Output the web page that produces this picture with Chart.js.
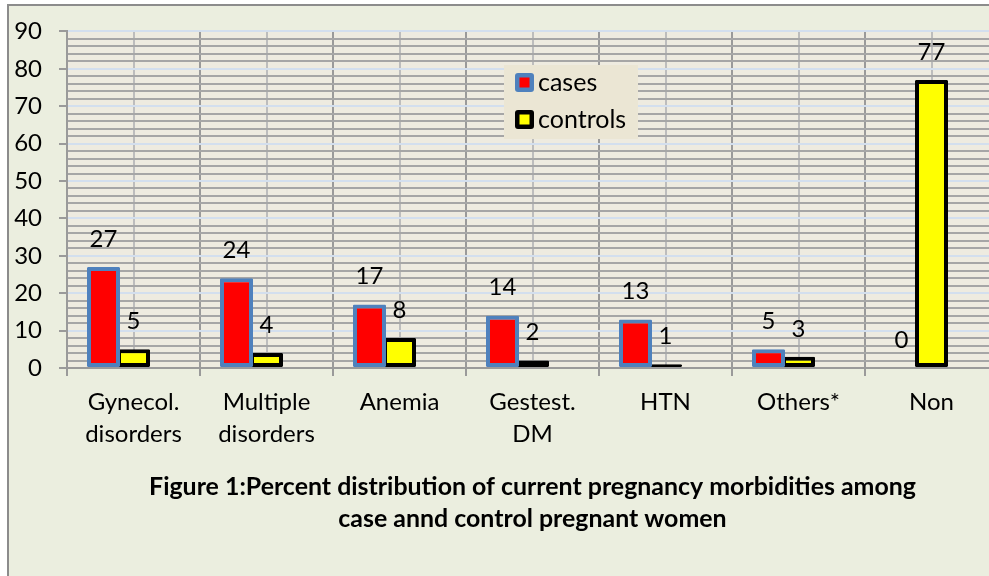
<!DOCTYPE html>
<html><head><meta charset="utf-8">
<script src="https://cdn.jsdelivr.net/npm/chart.js@4.4.1/dist/chart.umd.min.js"></script>
<style>
html,body{margin:0;padding:0;background:#fff;overflow:hidden;width:989px;height:576px}
#frame{position:absolute;left:7px;top:4px;width:1100px;height:620px;background:#ebeedf;border:2px solid #8c8c8c;box-sizing:border-box}
#c{position:absolute;left:0;top:0}
</style></head><body>
<div id="frame"></div>
<canvas id="c" width="1010" height="576"></canvas>
<script>
// ---- data ----
const categories = [['Gynecol.','disorders'],['Multiple','disorders'],'Anemia',['Gestest.','DM'],'HTN','Others*','Non'];
const seriesNames = ['cases','controls'];
const casesValues = [27,24,17,14,13,5,0];
const controlsValues = [5,4,8,2,1,3,77];
const yMajorTicks = [0,10,20,30,40,50,60,70,80,90];
const titleLines = ['Figure 1:Percent distribution of current pregnancy morbidities among','case annd control pregnant women'];

// ---- styles ----
const FONT = 'Lato';
const seriesStyles = [
  {fill:'#ff0000', border:'#4f81bd'},
  {fill:'#ffff00', border:'#000000'}
];

const plotBg = {
  id:'plotBg',
  beforeDraw(chart){
    const {ctx, chartArea:a} = chart;
    ctx.save(); ctx.fillStyle = '#eeebe0';
    ctx.fillRect(a.left, a.top, a.right-a.left, a.bottom-a.top);
    ctx.restore();
  }
};

const valueLabels = {
  id:'valueLabels',
  afterDatasetsDraw(chart){
    const ctx = chart.ctx;
    ctx.save();
    ctx.font = '24px ' + FONT; ctx.fillStyle = '#000';
    ctx.textAlign = 'center'; ctx.textBaseline = 'middle';
    [0,1].forEach(di=>{
      const meta = chart.getDatasetMeta(di);
      meta.data.forEach((el,i)=>{
        const v = chart.data.datasets[di].data[i];
        ctx.fillText(String(v), el.x, el.y - 28);
      });
    });
    ctx.restore();
  }
};

const customLegend = {
  id:'customLegend',
  afterDraw(chart){
    const ctx = chart.ctx;
    ctx.save();
    ctx.fillStyle = '#ebe6d4';
    ctx.fillRect(504, 65, 134, 74);
    const rows = [83, 120];
    seriesNames.forEach((name,i)=>{
      const cy = rows[i], st = seriesStyles[i];
      ctx.fillStyle = st.border;
      ctx.beginPath();
      if (ctx.roundRect) ctx.roundRect(515, cy-10, 19, 19, 3); else ctx.rect(515, cy-10, 19, 19);
      ctx.fill();
      ctx.fillStyle = st.fill;
      ctx.fillRect(519.5, cy-5.5, 10, 10);
      ctx.fillStyle = '#000';
      ctx.font = '25px ' + FONT;
      ctx.textAlign = 'left'; ctx.textBaseline = 'middle';
      ctx.fillText(name, 538, cy);
    });
    ctx.restore();
  }
};

const figTitle = {
  id:'figTitle',
  afterDraw(chart){
    const ctx = chart.ctx, a = chart.chartArea;
    ctx.save();
    ctx.font = 'bold 100px ' + FONT;
    const w = ctx.measureText(titleLines[0]).width;
    const size = 100 * 767 / w;
    ctx.font = 'bold ' + size.toFixed(2) + 'px ' + FONT;
    ctx.fillStyle = '#000'; ctx.textAlign = 'center'; ctx.textBaseline = 'middle';
    const cx = (a.left + a.right) / 2;
    ctx.fillText(titleLines[0], cx, 487);
    ctx.fillText(titleLines[1], cx, 519);
    ctx.restore();
  }
};

function build(){
  new Chart(document.getElementById('c'), {
    type:'bar',
    data:{
      labels: categories,
      datasets:[
        {label:seriesNames[0], data:casesValues, backgroundColor:seriesStyles[0].fill, borderColor:seriesStyles[0].border, borderWidth:4, borderSkipped:false, borderRadius:1},
        {label:seriesNames[1], data:controlsValues, backgroundColor:seriesStyles[1].fill, borderColor:seriesStyles[1].border, borderWidth:4, borderSkipped:false, borderRadius:1},
        {label:'', data:categories.map(()=>null)}
      ]
    },
    options:{
      responsive:false, animation:false,
      datasets:{bar:{categoryPercentage:0.6767, barPercentage:1.1}},
      layout:{padding:{left:0, top:20, right:12, bottom:0}},
      plugins:{legend:{display:false}, tooltip:{enabled:false}, title:{display:false}},
      scales:{
        x2:{
          type:'category', position:'bottom', offset:true,
          grid:{offset:false, color:'#bdbdbd', lineWidth:2, drawTicks:false},
          border:{display:false},
          ticks:{display:false},
          afterFit(s){ s.height = 0; }
        },
        x:{
          type:'category', position:'bottom', offset:true,
          grid:{offset:true, color:'#9a9a9a', lineWidth:2, tickLength:8, tickColor:'#9a9a9a'},
          border:{color:'#9a9a9a', width:2},
          ticks:{color:'#000', font:{family:FONT, size:24, lineHeight:1.333}, padding:10, maxRotation:0, autoSkip:false},
          afterFit(s){ s.height = 208; }
        },
        y:{
          min:0, max:90,
          grid:{
            color:c=> (c.tick && yMajorTicks.includes(c.tick.value)) ? '#d3dfee' : '#a6a6a6',
            lineWidth:2, tickLength:8,
            tickColor:c=> (c.tick && yMajorTicks.includes(c.tick.value)) ? '#9a9a9a' : 'rgba(0,0,0,0)'
          },
          border:{color:'#9a9a9a', width:2},
          ticks:{stepSize:2, autoSkip:false, color:'#000', font:{family:FONT, size:24}, padding:17,
            callback:v=> yMajorTicks.includes(v) ? String(v) : ''},
          afterFit(s){ s.width = 67; }
        }
      }
    },
    plugins:[plotBg, valueLabels, customLegend, figTitle]
  });
}
const fl = document.fonts ? Promise.all([document.fonts.load('24px Lato'), document.fonts.load('bold 24px Lato')]).catch(()=>{}) : Promise.resolve();
fl.then(build, build);
</script>
</body></html>
